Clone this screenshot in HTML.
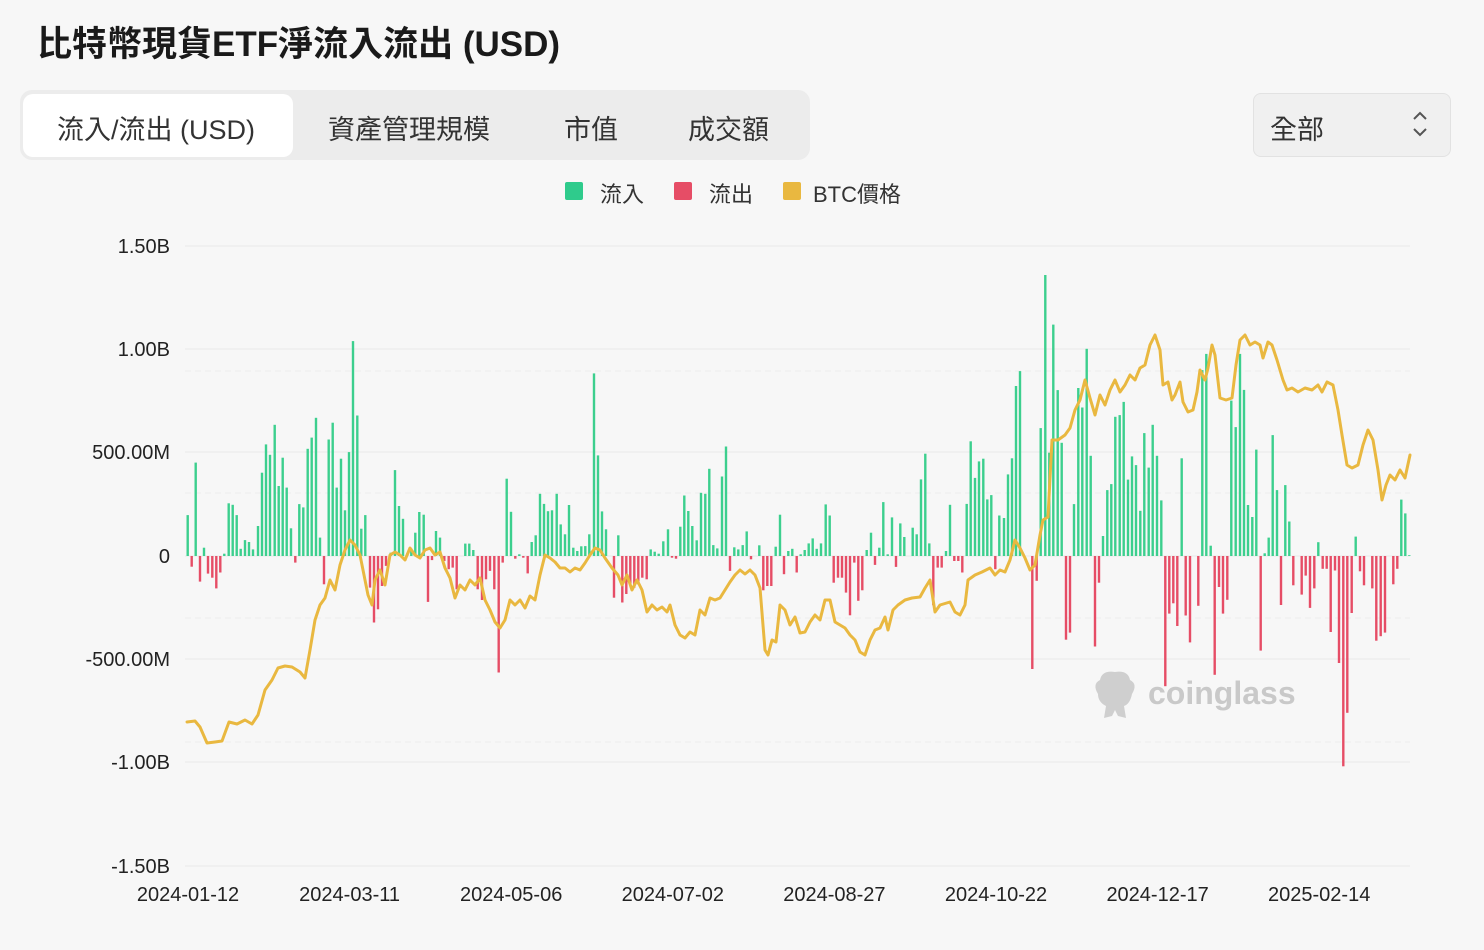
<!DOCTYPE html>
<html><head><meta charset="utf-8"><style>
body{margin:0;width:1484px;height:950px;background:#f7f7f7;font-family:"Liberation Sans","Noto Sans CJK TC",sans-serif;overflow:hidden;position:relative;color:#222}
.t{position:absolute;white-space:nowrap}
</style></head><body>
<div class="t" style="left:37px;top:16px;font-size:35px;font-weight:bold;color:#1a1a1a">比特幣現貨ETF淨流入流出 (USD)</div>
<div style="position:absolute;left:20px;top:90px;width:790px;height:70px;background:#ececec;border-radius:12px"></div>
<div style="position:absolute;left:23px;top:94px;width:270px;height:63px;background:#fff;border-radius:10px"></div>
<div class="t" style="left:57px;top:108px;font-size:27px;color:#333">流入/流出 (USD)</div>
<div class="t" style="left:328px;top:108px;font-size:27px;color:#333">資產管理規模</div>
<div class="t" style="left:564px;top:108px;font-size:27px;color:#333">市值</div>
<div class="t" style="left:688px;top:108px;font-size:27px;color:#333">成交額</div>
<div style="position:absolute;left:1253px;top:93px;width:196px;height:62px;background:#f0f0f0;border:1px solid #e2e2e2;border-radius:8px"></div>
<div class="t" style="left:1270px;top:108px;font-size:27px;color:#333">全部</div>
<svg style="position:absolute;left:1410px;top:110px" width="20" height="30"><path d="M4 9 L10 3 L16 9 M4 19 L10 25 L16 19" stroke="#555" stroke-width="2" fill="none"/></svg>
<div style="position:absolute;left:565px;top:182px;width:18px;height:18px;background:#2fcb8c;border-radius:2px"></div>
<div class="t" style="left:600px;top:177px;font-size:22px;color:#333">流入</div>
<div style="position:absolute;left:674px;top:182px;width:18px;height:18px;background:#e64d66;border-radius:2px"></div>
<div class="t" style="left:709px;top:177px;font-size:22px;color:#333">流出</div>
<div style="position:absolute;left:783px;top:182px;width:18px;height:18px;background:#e9b840;border-radius:2px"></div>
<div class="t" style="left:813px;top:177px;font-size:22px;color:#333">BTC價格</div>
<svg id="c" style="position:absolute;left:0;top:0" width="1484" height="950"></svg>
<div class="t" style="left:1148px;top:675px;font-size:32px;font-weight:bold;color:#c9c9c9">coinglass</div>
<svg style="position:absolute;left:1092px;top:670px" width="46" height="52"><path d="M8 10 Q10 0 23 2 Q36 0 38 10 Q46 14 40 24 Q38 34 32 36 L34 48 L26 46 L23 40 L20 46 L12 48 L14 36 Q6 32 6 24 Q0 14 8 10Z" fill="#cfcfcf"/></svg>
<script>
var s=document.getElementById('c'),h='';
var labs=[['1.50B',246],['1.00B',349],['500.00M',452],['0',556],['-500.00M',659],['-1.00B',762],['-1.50B',866]];
labs.forEach(function(l){h+='<line x1="185" x2="1410" y1="'+l[1]+'" y2="'+l[1]+'" stroke="#e9e9e9" stroke-width="1"/>';
h+='<text x="170" y="'+(l[1]+7)+'" text-anchor="end" font-size="20" fill="#222" font-family="Liberation Sans,sans-serif">'+l[0]+'</text>';});
[371,493,618,742].forEach(function(y){h+='<line x1="185" x2="1410" y1="'+y+'" y2="'+y+'" stroke="#ececec" stroke-dasharray="6,4"/>';});
var xl=['2024-01-12','2024-03-11','2024-05-06','2024-07-02','2024-08-27','2024-10-22','2024-12-17','2025-02-14'];
xl.forEach(function(t,i){h+='<text x="'+(188+i*161.6)+'" y="901" text-anchor="middle" font-size="20" fill="#222" font-family="Liberation Sans,sans-serif">'+t+'</text>';});
var z1=[[23,198],[35,-52],[47,452],[60,-124],[72,40],[84,-85],[97,-105],[109,-157],[121,-80],[133,11],[146,255],[158,248],[170,198],[182,35],[195,77],[207,68],[219,32],[234,145],[246,403],[258,540],[270,490],[284,635],[296,339],[308,476],[320,331],[333,134],[346,-32],[358,251],[370,235],[383,519],[395,573],[408,669],[420,89],[432,-137],[446,564],[458,645],[470,331],[483,471],[495,221],[507,503],[519,1040],[532,680],[544,132],[556,198],[570,-153],[582,-322],[594,-258],[606,-145],[618,-48],[632,16],[645,416],[657,242],[669,180],[682,13],[694,35],[706,113],[718,213],[731,200],[744,-222],[756,-20],[768,121],[780,89],[793,-24],[806,-64],[818,-56],[830,-161],[856,60],[868,60],[880,29],[893,-161],[906,-213],[918,-113],[930,-72],[943,-161],[956,-564],[968,-32],[980,374],[993,214],[1006,-13],[1018,8],[1030,-8],[1043,-84],[1055,68],[1067,100],[1080,301],[1092,252],[1104,217],[1116,221],[1130,301],[1142,153],[1155,105],[1167,247],[1180,40],[1192,24],[1204,47],[1216,48],[1228,105],[1242,884]];
var z2=[[24,487],[36,216],[48,129],[72,-202],[85,100],[97,-225],[109,-184],[121,-145],[133,-153],[145,-137],[157,-105],[170,-113],[182,32],[194,21],[206,11],[220,71],[234,129],[246,-8],[258,-13],[271,142],[283,293],[295,218],[307,145],[320,76],[333,306],[346,301],[358,422],[370,53],[382,37],[396,385],[408,530],[420,-72],[433,42],[445,32],[458,53],[470,119],[483,-16],[508,52],[520,-166],[532,-145],[544,-145],[557,45],[570,200],[582,-88],[595,24],[607,35],[620,-80],[632,8],[644,29],[656,61],[668,85],[680,35],[693,61],[707,250],[719,196],[731,-129],[744,-105],[756,-105],[768,-177],[780,-287],[793,-32],[805,-217],[817,-166],[830,29],[843,113],[855,-43],[868,40],[880,261],[893,8],[906,187],[918,-53],[931,158],[943,92],[968,137],[980,105],[993,371],[1006,495],[1018,61],[1030,-238],[1043,-56],[1055,-56],[1068,24],[1080,248],[1093,-24],[1105,-24],[1117,-80],[1130,252],[1142,555],[1155,378],[1167,458],[1180,471],[1192,274],[1204,295],[1216,-64],[1228,196]];
var z3=[[12,184],[24,395],[36,473],[48,823],[60,895],[97,-547],[110,-120],[122,619],[136,1360],[148,500],[160,1120],[173,803],[185,548],[198,-405],[210,-371],[222,251],[235,813],[247,719],[260,1003],[272,485],[285,-438],[297,-129],[309,97],[322,319],[334,348],[346,674],[359,682],[371,746],[384,370],[396,482],[408,440],[421,219],[433,595],[446,428],[458,635],[471,485],[484,269],[496,-630],[508,-279],[520,-229],[532,-339],[545,473],[557,-288],[570,-418],[595,-241],[607,900],[619,978],[632,50],[644,-575],[657,-150],[669,-279],[682,-212],[694,752],[707,624],[720,978],[732,804],[744,247],[757,189],[769,515],[782,-458],[794,13],[806,89],[818,585],[831,319],[843,-237],[856,343],[868,167],[880,-142],[905,-187],[917,-95],[930,-251],[943,-157],[955,67],[968,-62],[980,-62],[992,-368],[1005,-70],[1017,-518],[1030,-1018],[1042,-759],[1055,-276],[1067,94],[1080,-74],[1092,-142],[1117,-157],[1129,-410],[1142,-388],[1155,-371],[1180,-137],[1192,-62],[1204,273],[1216,206],[1228,4]];
function bars(a,ox){a.forEach(function(b){var x=ox+b[0]/3,v=b[1]*0.2066;var y=v>0?556-v:556;
h+='<rect x="'+(x-1.2).toFixed(1)+'" y="'+y.toFixed(1)+'" width="2.4" height="'+Math.max(Math.abs(v),0.8).toFixed(1)+'" fill="'+(v>0?'#3ccf8e':'#e64d66')+'"/>';});}
bars(z1,180);bars(z2,590);bars(z3,1000);
var p=[187,722,195,721,200,727,207,743,215,742,222,741,229,722,237,724,245,720,252,724,258,715,265,690,272,680,278,668,285,666,292,667,300,672,305,678,310,650,315,620,320,605,325,598,330,580,335,590,340,565,345,550,350,540,355,545,360,555,365,580,368,595,372,605,375,580,380,570,385,585,390,555,395,552,400,555,405,560,410,548,415,555,420,558,425,550,430,548,435,555,440,552,445,568,450,578,455,598,460,585,465,590,470,580,475,585,480,578,485,600,490,610,495,622,500,628,505,620,510,600,515,605,520,600,525,608,530,596,535,600,540,575,545,555,550,558,555,562,560,568,565,568,570,572,575,568,580,570,585,563,590,555,595,548,600,550,605,558,612,568,618,575,622,585,627,575,632,590,637,580,642,590,647,612,652,605,657,610,662,607,667,612,670,605,675,625,680,635,685,638,690,632,695,635,700,610,705,615,710,598,715,600,720,598,725,590,730,582,735,575,740,570,745,574,750,570,755,575,760,588,765,650,768,655,772,640,776,642,780,605,785,610,790,625,795,617,800,633,805,632,810,622,815,615,820,620,825,600,830,600,835,622,840,625,845,628,850,635,855,640,860,652,865,655,870,640,875,630,880,628,885,617,888,630,893,610,898,605,905,600,912,598,920,597,925,588,930,580,935,612,940,605,950,602,955,612,960,615,965,605,968,580,975,575,982,572,990,568,995,575,1000,570,1005,572,1010,560,1015,540,1020,548,1025,558,1030,570,1035,565,1040,535,1043,520,1048,517,1052,440,1058,440,1065,435,1070,428,1075,410,1080,400,1085,380,1090,398,1095,415,1100,395,1105,405,1110,390,1115,380,1120,392,1125,385,1130,375,1135,380,1140,368,1145,365,1150,345,1155,335,1160,350,1163,385,1168,382,1172,400,1175,395,1180,382,1183,402,1188,412,1193,410,1197,392,1200,370,1205,380,1208,368,1212,345,1215,355,1220,398,1226,400,1232,398,1236,365,1240,340,1245,335,1250,345,1255,342,1260,345,1263,358,1268,342,1272,345,1277,360,1283,380,1287,390,1292,388,1298,392,1305,388,1312,390,1318,385,1322,392,1327,382,1333,385,1338,410,1342,435,1347,465,1352,468,1358,465,1363,445,1368,430,1373,440,1378,470,1382,500,1386,485,1390,475,1395,480,1400,470,1405,478,1410,455];
var d='M'+p[0]+' '+p[1];for(var i=2;i<p.length;i+=2)d+=' L'+p[i]+' '+p[i+1];
h+='<path d="'+d+'" fill="none" stroke="#e9b840" stroke-width="3" stroke-linejoin="round" stroke-linecap="round"/>';
s.innerHTML=h;
</script>
</body></html>
